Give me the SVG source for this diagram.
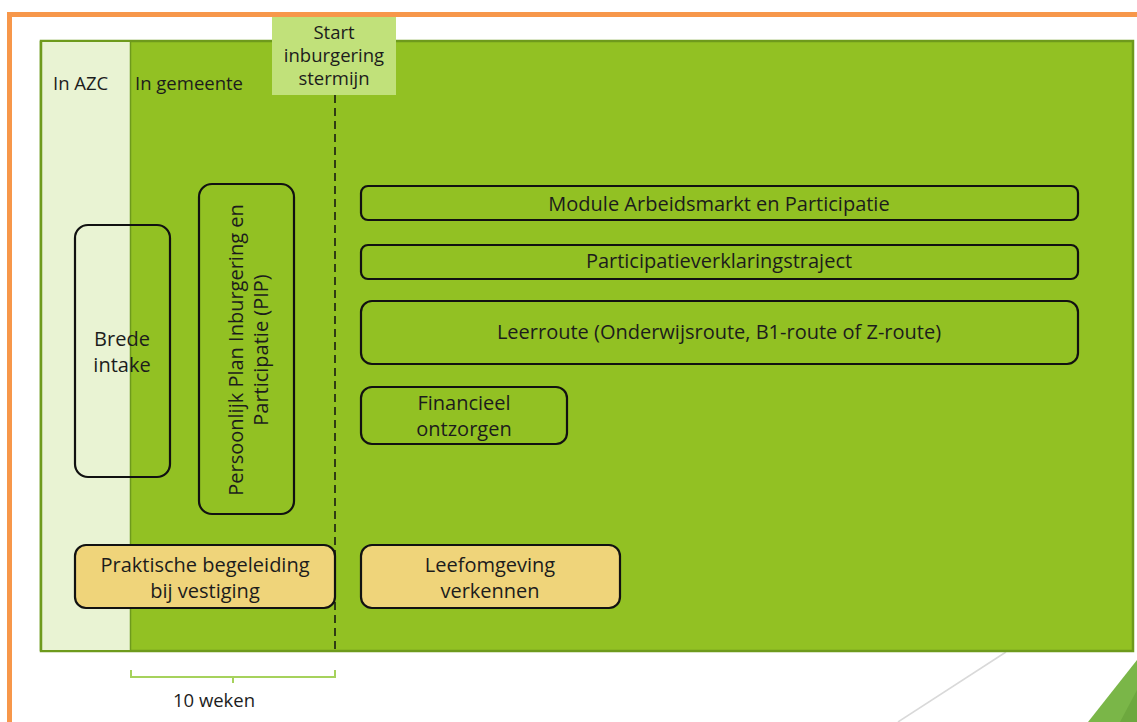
<svg xmlns="http://www.w3.org/2000/svg" width="1137" height="722" viewBox="0 0 1137 722">
<style>
  text { font-family: "Open Sans", "DejaVu Sans", sans-serif; font-size: 20px; fill: #1c1c1c; }
  .sm { font-size: 18.5px; }
  .c { text-anchor: middle; }
  .box { stroke: #111; stroke-width: 2.2; }
  .green { fill: #92c123; }
  .yellow { fill: #efd47a; }
  .none { fill: none; }
</style>
<rect width="1137" height="722" fill="#ffffff"/>
<!-- decoration -->
<line x1="1006" y1="652" x2="898" y2="722" stroke="#d9d9d9" stroke-width="1.5"/>
<polygon points="1088,722 1137,660 1137,722" fill="#7ab648"/>
<polygon points="1120,722 1137,690 1137,722" fill="#6da83e"/>
<!-- orange frame -->
<rect x="9.5" y="14.5" width="1140" height="720" fill="none" stroke="#f7974a" stroke-width="5"/>
<!-- background panels -->
<g id="background">
  <rect x="41" y="41" width="1092" height="610" fill="#92c123" stroke="#6e9a1c" stroke-width="2.5"/>
  <rect x="41" y="42" width="89" height="608" fill="#e9f3d3"/>
  <line x1="130.5" y1="42" x2="130.5" y2="650" stroke="#6e9a1c" stroke-width="1.5"/>
  <line x1="41" y1="41" x2="41" y2="651" stroke="#6e9a1c" stroke-width="2.5"/>
  <text class="sm" x="53" y="90">In AZC</text>
  <text class="sm" x="135" y="90">In gemeente</text>
</g>
<g id="start">
  <rect x="272" y="17" width="124" height="78" fill="#c1e17a"/>
  <text class="c sm" x="334" y="39">Start</text>
  <text class="c sm" x="334" y="62">inburgering</text>
  <text class="c sm" x="334" y="85">stermijn</text>
</g>
<g id="connectors">
  <line x1="335" y1="95" x2="335" y2="651" stroke="#111" stroke-width="1.5" stroke-dasharray="8,5"/>
  <polyline points="131,670 131,677 335,677 335,670" fill="none" stroke="#a6d25c" stroke-width="2"/>
  <line x1="233" y1="677" x2="233" y2="683" stroke="#a6d25c" stroke-width="2"/>
</g>
<g id="label-10weken">
  <text class="c sm" x="214" y="707">10 weken</text>
</g>
<g id="brede-intake">
  <rect class="box none" x="75" y="225" width="95" height="252" rx="13"/>
  <text class="c" x="122" y="346">Brede</text>
  <text class="c" x="122" y="372">intake</text>
</g>
<g id="pip">
  <rect class="box green" x="199" y="184" width="95" height="330" rx="13"/>
  <text class="c" transform="translate(246,350) rotate(-90)" x="0" y="-3">Persoonlijk Plan Inburgering en</text>
  <text class="c" transform="translate(246,350) rotate(-90)" x="0" y="22">Participatie (PIP)</text>
</g>
<g id="praktische">
  <rect class="box yellow" x="75" y="545" width="260" height="63" rx="11"/>
  <text class="c" x="205" y="572">Praktische begeleiding</text>
  <text class="c" x="205" y="598">bij vestiging</text>
</g>
<g id="leefomgeving">
  <rect class="box yellow" x="361" y="545" width="259" height="63" rx="11"/>
  <text class="c" x="490" y="572">Leefomgeving</text>
  <text class="c" x="490" y="598">verkennen</text>
</g>
<g id="module">
  <rect class="box green" x="361" y="186" width="717" height="34" rx="7"/>
  <text class="c" x="719" y="211">Module Arbeidsmarkt en Participatie</text>
</g>
<g id="participatieverklaring">
  <rect class="box green" x="361" y="245" width="717" height="34" rx="7"/>
  <text class="c" x="719" y="268">Participatieverklaringstraject</text>
</g>
<g id="leerroute">
  <rect class="box green" x="361" y="301" width="717" height="63" rx="11"/>
  <text class="c" x="719" y="339">Leerroute (Onderwijsroute, B1-route of Z-route)</text>
</g>
<g id="financieel">
  <rect class="box green" x="361" y="387" width="206" height="57" rx="11"/>
  <text class="c" x="464" y="410">Financieel</text>
  <text class="c" x="464" y="436">ontzorgen</text>
</g>
</svg>
